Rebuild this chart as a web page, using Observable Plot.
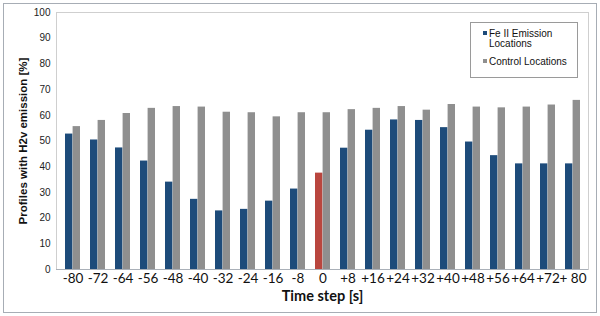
<!DOCTYPE html>
<html>
<head>
<meta charset="utf-8">
<script src="https://cdn.jsdelivr.net/npm/d3@7"></script>
<script src="https://cdn.jsdelivr.net/npm/@observablehq/plot@0.6"></script>
<style>
  body { margin: 0; background: #fff; }
  #wrap { position: relative; width: 600px; height: 316px; overflow: hidden; }
  #border { position: absolute; left: 3px; top: 3px; width: 594px; height: 310px; border: 1px solid #a7adb5; box-sizing: border-box; pointer-events: none; }
  #legend { position: absolute; left: 470px; top: 22px; width: 108px; height: 56px; border: 1px solid #9a9a9a; background: #fff; box-sizing: border-box; font-family: "Liberation Sans", Arial, sans-serif; font-size: 10px; color: #111; }
  #legend .item { position: absolute; left: 12px; line-height: 9.5px; }
  #legend .sw { position: absolute; left: 0; top: 2px; width: 4px; height: 4px; }
  #legend .lab { position: absolute; left: 6px; top: 0; white-space: nowrap; }
</style>
</head>
<body>
<div id="wrap">
  <div id="chart"></div>
  <div id="legend"></div>
  <div id="border"></div>
</div>
<script>
// ---- data ----
const categories = ["-80","-72","-64","-56","-48","-40","-32","-24","-16","-8","0","+8","+16","+24","+32","+40","+48","+56","+64","+72","+ 80"];
const feValues = [52.7, 50.4, 47.3, 42.2, 34.0, 27.3, 22.8, 23.4, 26.6, 31.3, 37.5, 47.2, 54.2, 58.2, 58.0, 55.2, 49.6, 44.3, 41.1, 41.1, 41.1];
const controlValues = [55.6, 58.0, 60.7, 62.7, 63.4, 63.2, 61.2, 61.0, 59.4, 61.0, 61.0, 62.2, 62.7, 63.4, 62.0, 64.2, 63.2, 62.9, 63.2, 64.0, 65.8];
const seriesNames = ["Fe II Emission Locations", "Control Locations"];
const highlightCategory = "0";
const yTicks = [0, 10, 20, 30, 40, 50, 60, 70, 80, 90, 100];

const colors = { fe: "#1d4b7a", control: "#8f8f8f", highlight: "#b9463e" };

const W = 600, H = 316, mL = 56, mR = 12, mT = 12, mB = 47;
const padIn = 0.4, padOut = 0.2;
const step = (W - mL - mR) / (categories.length - padIn + 2 * padOut);
const half = step * (1 - padIn) / 2;

const feRows = categories.map((c, i) => ({ cat: c, series: seriesNames[0], value: feValues[i] }));
const ctrlRows = categories.map((c, i) => ({ cat: c, series: seriesNames[1], value: controlValues[i] }));

const chart = Plot.plot({
  width: W, height: H,
  marginLeft: mL, marginRight: mR, marginTop: mT, marginBottom: mB,
  style: { fontFamily: "'Liberation Sans', Arial, sans-serif", background: "transparent", color: "#222" },
  x: { type: "band", domain: categories, paddingInner: padIn, paddingOuter: padOut, label: null },
  y: { domain: [0, 100], label: null },
  marks: [
    Plot.frame({ stroke: "#cfcfcf" }),
    Plot.barY(feRows, { x: "cat", y: "value", insetLeft: 0, insetRight: half,
      fill: d => d.cat === highlightCategory ? colors.highlight : colors.fe }),
    Plot.barY(ctrlRows, { x: "cat", y: "value", insetLeft: half, insetRight: 0, fill: colors.control }),
    Plot.ruleY([0], { stroke: "#aab0b8" }),
    Plot.axisY({ ticks: yTicks, tickSize: 0, tickPadding: 6, fontSize: 10, label: null }),
    Plot.axisX({ tickSize: 0, tickPadding: 4, fontSize: 13.5, fontFamily: "Lato, sans-serif", label: null, fill: "#111" }),
    Plot.text(["Time step [s]"], { frameAnchor: "bottom", dy: 31, fontWeight: "bold", fontSize: 14.5, fontFamily: "Lato, sans-serif", fill: "#111" }),
    Plot.text(["Profiles with H2v emission [%]"], { frameAnchor: "left", textAnchor: "middle", dx: -33, rotate: -90, fontWeight: "bold", fontSize: 11.5, fill: "#111" })
  ]
});
document.getElementById("chart").appendChild(chart);

// legend
const legend = document.getElementById("legend");
const legendItems = [
  { lines: ["Fe II Emission", "Locations"], color: colors.fe, top: 6 },
  { lines: ["Control Locations"], color: colors.control, top: 34 }
];
legendItems.forEach(it => {
  const d = document.createElement("div");
  d.className = "item";
  d.style.top = it.top + "px";
  d.innerHTML = `<span class="sw" style="background:${it.color}"></span><span class="lab">${it.lines.join("<br>")}</span>`;
  legend.appendChild(d);
});
</script>
</body>
</html>
